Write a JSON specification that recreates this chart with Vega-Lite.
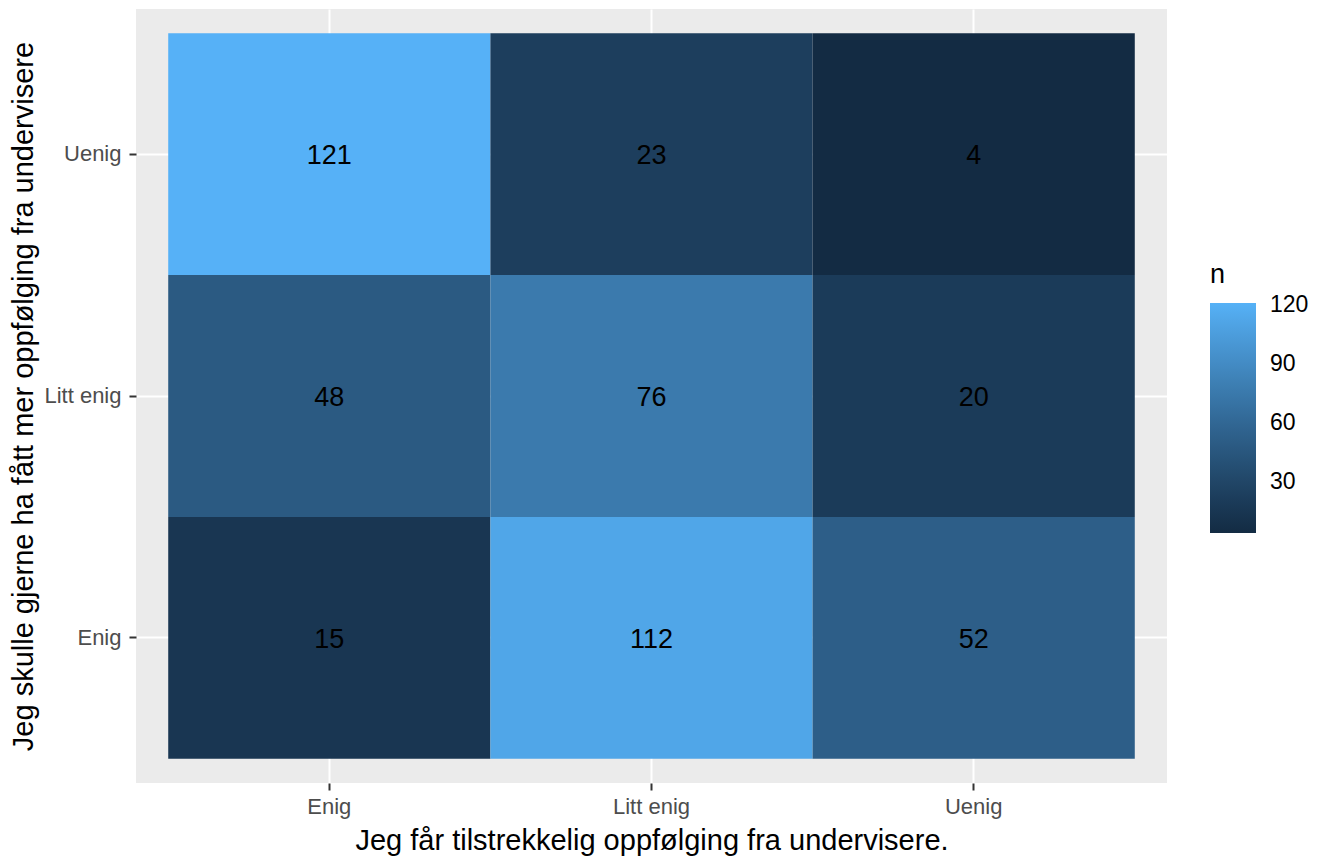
{
  "$schema": "https://vega.github.io/schema/vega-lite/v6.json",
  "autosize": "none",
  "width": 1031,
  "height": 774,
  "padding": {"left": 136, "top": 9, "right": 150, "bottom": 73},
  "background": "white",
  "config": {
    "font": "Liberation Sans",
    "view": {"fill": "#EBEBEB", "stroke": null},
    "axis": {
      "domain": false,
      "grid": true,
      "zindex": 0,
      "gridColor": "white",
      "gridWidth": 2,
      "tickColor": "#333333",
      "tickWidth": 2,
      "tickSize": 7,
      "labelColor": "#4D4D4D",
      "labelFontSize": 22,
      "titleFontSize": 29,
      "titleFontWeight": "normal",
      "titleColor": "black"
    }
  },
  "data": {
    "values": [
      {"x": "Enig", "y": "Uenig", "n": 121},
      {"x": "Litt enig", "y": "Uenig", "n": 23},
      {"x": "Uenig", "y": "Uenig", "n": 4},
      {"x": "Enig", "y": "Litt enig", "n": 48},
      {"x": "Litt enig", "y": "Litt enig", "n": 76},
      {"x": "Uenig", "y": "Litt enig", "n": 20},
      {"x": "Enig", "y": "Enig", "n": 15},
      {"x": "Litt enig", "y": "Enig", "n": 112},
      {"x": "Uenig", "y": "Enig", "n": 52}
    ]
  },
  "encoding": {
    "x": {
      "field": "x",
      "type": "nominal",
      "scale": {"domain": ["Enig", "Litt enig", "Uenig"], "paddingInner": 0, "paddingOuter": 0.1},
      "axis": {"title": "Jeg får tilstrekkelig oppfølging fra undervisere.", "labelAngle": 0, "labelPadding": 6, "titlePadding": 9}
    },
    "y": {
      "field": "y",
      "type": "nominal",
      "scale": {"domain": ["Uenig", "Litt enig", "Enig"], "paddingInner": 0, "paddingOuter": 0.1},
      "axis": {"title": "Jeg skulle gjerne ha fått mer oppfølging fra undervisere", "labelPadding": 8, "titlePadding": 5}
    }
  },
  "layer": [
    {
      "mark": {"type": "rect"},
      "encoding": {
        "color": {
          "field": "n",
          "type": "quantitative",
          "scale": {"domain": [4, 121], "range": ["#132B43", "#56B1F7"], "interpolate": "lab", "zero": false},
          "legend": {
            "title": "n",
            "orient": "none",
            "legendX": 1074,
            "legendY": 253,
            "direction": "vertical",
            "values": [30, 60, 90, 120],
            "gradientLength": 230,
            "gradientThickness": 46,
            "gradientStrokeWidth": 0,
            "titleFontSize": 27,
            "titleFontWeight": "normal",
            "titleColor": "black",
            "titlePadding": 14,
            "labelFontSize": 23,
            "labelColor": "black",
            "labelOffset": 14
          }
        }
      }
    },
    {
      "mark": {"type": "text", "fontSize": 27, "color": "black", "dy": 2},
      "encoding": {"text": {"field": "n", "type": "quantitative"}}
    }
  ]
}
